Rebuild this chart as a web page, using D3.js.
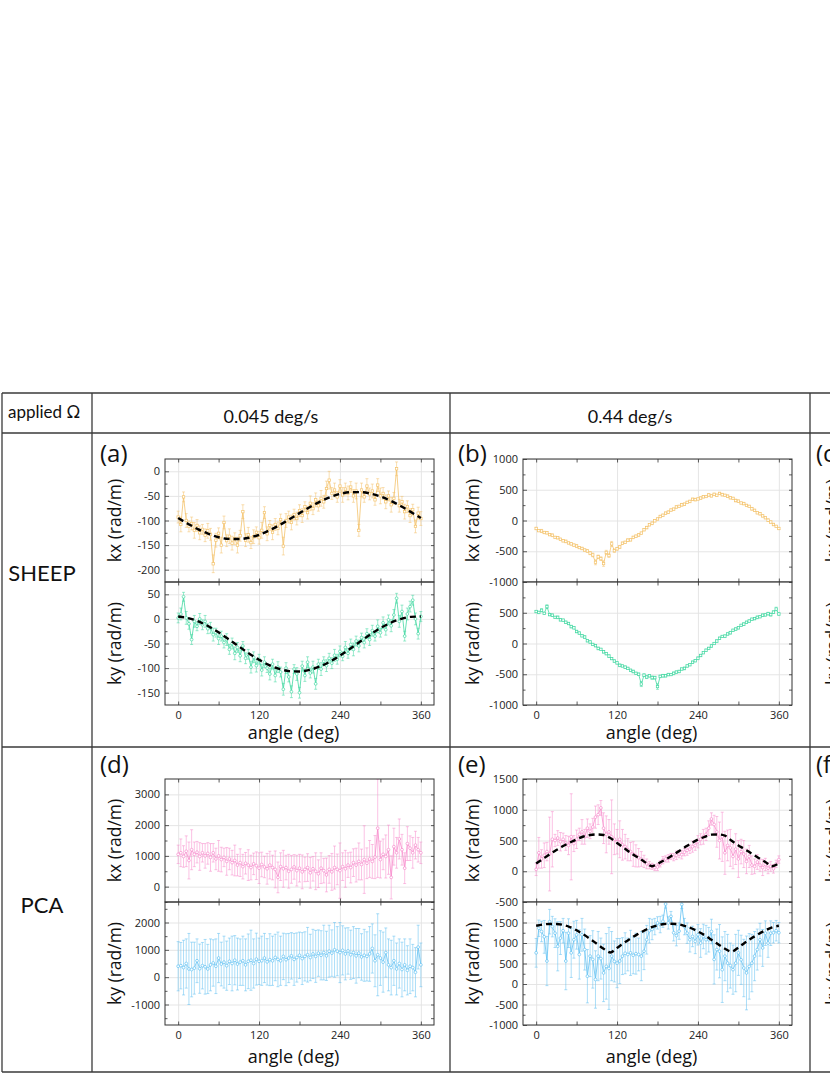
<!DOCTYPE html>
<html>
<head>
<meta charset="utf-8">
<script src="https://cdn.jsdelivr.net/npm/d3@7"></script>
<style>
body{margin:0;background:#fff}
svg{display:block;font-family:"Open Sans",sans-serif}
</style>
</head>
<body>
<div id="chart"></div>
<script>
// sampling angles (deg)
const angles = [0,4,8,12,16,20,24,28,32,36,40,44,48,52,56,60,64,68,72,76,80,84,88,92,96,100,104,108,112,116,
  120,124,128,132,136,140,144,148,152,156,160,164,168,172,176,180,184,188,192,196,200,204,208,212,216,220,224,228,232,236,
  240,244,248,252,256,260,264,268,272,276,280,284,288,292,296,300,304,308,312,316,320,324,328,332,336,340,344,348,352,356,360];

// (a) SHEEP, 0.045 deg/s
const kxA = [-93,-108,-52,-100,-112,-106,-120,-110,-125,-118,
  -130,-121,-128,-188,-140,-126,-150,-104,-141,-132,
  -146,-137,-150,-131,-82,-140,-129,-145,-133,-124,
  -135,-120,-84,-127,-110,-124,-108,-116,-98,-152,
  -100,-93,-104,-88,-96,-80,-90,-72,-84,-65,
  -76,-58,-70,-55,-62,-35,-18,-45,-38,-52,
  -30,-48,-36,-44,-32,-50,-40,-120,-38,-52,
  -30,-46,-40,-58,-28,-50,-45,-62,-50,-68,
  -55,5,-70,-62,-82,-72,-90,-78,-112,-85,
  -96];
const kxAErr = [12,15,10,14,11,13,16,12,14,10,
  13,15,12,18,14,11,16,13,12,15,
  14,12,16,11,14,13,15,12,14,11,
  13,16,12,14,10,15,12,13,11,18,
  14,12,15,11,13,12,14,10,13,15,
  12,14,11,16,13,15,18,12,14,11,
  13,15,12,14,11,13,16,12,14,11,
  15,12,14,11,13,16,12,14,10,15,
  12,14,13,11,15,12,14,11,13,12,
  14];
const kyA = [2,10,45,2,-10,-42,-5,-15,0,-12,
  -5,-20,-18,-32,-28,-40,-35,-48,-42,-62,
  -50,-70,-58,-75,-55,-80,-72,-98,-78,-95,
  -82,-104,-88,-100,-112,-92,-115,-98,-108,-143,
  -100,-118,-148,-102,-112,-150,-96,-115,-88,-110,
  -98,-132,-92,-102,-86,-95,-80,-90,-74,-82,
  -66,-76,-58,-70,-52,-62,-45,-55,-38,-48,
  -30,-42,-24,-35,-15,-28,-8,-22,-2,-14,
  8,42,-5,15,-35,10,25,38,0,-30,
  5];
const kyAErr = [10,12,9,13,11,10,12,9,11,10,
  12,10,11,13,9,12,10,11,12,10,
  11,13,10,12,9,11,10,12,11,13,
  10,12,11,9,12,10,13,11,10,12,
  11,10,12,9,13,11,10,12,11,10,
  12,11,10,13,9,12,10,11,12,10,
  11,9,12,10,11,13,10,12,9,11,
  10,12,11,10,13,9,12,11,10,12,
  11,10,12,13,10,12,11,10,12,11,
  10];
const fitAnglesA = [0,15,30,45,60,75,90,105,120,135,150,165,180,195,210,225,240,255,270,285,300,315,330,345,360];
const kxAFit = [-95,-107,-118,-127,-134,-137.4,-137.7,-135,-129,-120,-109.5,-97.5,-85,-73,-62,-52.7,-46,-42.6,-42.3,-45.2,-51.2,-59.8,-70.5,-82.5,-95];
const kyAFit = [4.8,1.6,-5.1,-15,-27.3,-41.3,-55.9,-70.2,-83.1,-93.9,-101.7,-106.1,-106.8,-103.6,-96.9,-87,-74.7,-60.7,-46.1,-31.8,-18.9,-8.1,-0.3,4.2,4.8];

// (b) SHEEP, 0.44 deg/s
const kxB = [-130,-165,-170,-195,-200,-230,-240,-275,-280,-305,
  -330,-340,-365,-380,-400,-415,-440,-455,-480,-495,
  -530,-560,-680,-590,-620,-700,-520,-570,-380,-490,
  -460,-430,-370,-355,-320,-315,-275,-255,-235,-205,
  -150,-115,-70,-45,-5,25,65,85,120,135,
  170,185,220,230,255,265,295,310,345,340,
  350,365,385,390,415,400,425,410,440,420,
  410,395,370,360,325,315,285,275,245,230,
  190,165,125,110,75,45,5,-25,-65,-95,
  -130];
const kyB = [520,505,540,490,600,470,460,425,425,385,
  380,345,325,275,255,195,170,125,105,45,
  25,-15,-35,-80,-95,-135,-165,-205,-245,-285,
  -315,-355,-365,-385,-405,-435,-455,-485,-500,-660,
  -515,-545,-525,-555,-555,-700,-535,-525,-525,-505,
  -505,-485,-465,-455,-415,-405,-365,-345,-305,-280,
  -240,-195,-150,-110,-80,-40,0,40,85,115,
  120,155,175,215,235,255,295,315,345,365,
  395,405,425,435,460,465,485,470,510,560,
  480];
const kxBErr = [20,15,25,18,20,15,22,18,20,16,
  18,22,15,20,18,25,16,20,18,22,
  25,30,40,28,30,45,35,30,40,28,
  22,25,20,18,22,16,20,18,22,15,
  18,20,16,22,18,15,20,18,16,22,
  18,15,20,16,22,18,15,20,18,22,
  16,20,18,15,22,18,20,16,18,22,
  15,20,18,16,22,18,15,20,18,16,
  22,18,15,20,18,16,22,18,20,15,
  18];
const kyBErr = [18,20,25,16,30,18,20,16,22,18,
  15,20,18,22,16,20,18,15,22,18,
  20,16,18,22,15,20,18,22,16,20,
  18,22,15,20,18,16,22,18,20,40,
  22,25,20,28,22,45,20,22,18,20,
  16,22,18,20,15,22,18,16,20,18,
  22,18,15,20,18,22,16,20,18,15,
  20,18,22,16,20,18,15,22,18,20,
  16,18,22,15,20,18,22,25,20,30,
  20];

// (d) PCA, 0.045 deg/s
const kxD = [1050,1100,980,1150,850,1200,1050,1120,980,1100,
  1000,1080,950,1100,900,1000,880,950,820,900,
  780,850,700,780,650,760,700,620,740,680,
  600,720,640,580,700,620,560,300,650,580,
  620,500,560,640,520,600,480,560,620,450,
  580,500,420,600,520,380,560,480,620,560,
  520,650,580,700,620,780,700,820,720,880,
  760,900,820,960,1900,880,1050,980,1200,300,
  1300,1100,1550,1200,600,1400,1250,1100,1350,1200,
  1100];
const kxDErr = [300,450,350,500,600,650,400,350,450,300,
  400,350,450,300,350,500,400,300,450,350,
  400,500,350,450,400,350,500,400,350,450,
  500,400,350,500,450,400,600,500,450,600,
  400,550,450,400,500,450,550,400,450,500,
  400,600,450,500,400,550,450,600,700,500,
  900,450,600,400,500,450,550,600,500,1100,
  500,600,550,700,1600,600,500,700,800,700,
  600,500,650,500,500,550,400,500,450,400,
  350];
const kyD = [400,420,350,500,300,280,330,600,310,420,
  380,300,450,520,400,700,480,550,420,580,
  500,620,480,550,600,450,580,620,500,660,
  580,600,700,560,640,600,720,650,600,760,
  640,700,780,650,720,800,680,760,820,720,
  850,760,880,800,900,780,950,880,1000,950,
  900,980,850,960,820,900,780,880,740,800,
  760,850,1050,600,820,700,550,900,450,350,
  600,300,500,280,450,250,400,350,180,1100,
  450];
const kyDErr = [900,850,1000,900,1300,1000,950,800,900,850,
  1000,900,950,850,1000,900,800,950,900,850,
  1000,900,950,850,900,950,1000,1100,900,950,
  850,900,900,850,950,900,850,1000,900,850,
  950,900,850,950,900,850,950,900,1000,850,
  900,950,850,900,1000,900,950,850,1000,900,
  1100,900,950,850,900,950,1000,900,850,950,
  900,1000,900,950,1500,1000,1100,900,950,1000,
  900,950,900,1000,950,900,1000,850,900,800,
  800];

// (e) PCA, 0.44 deg/s
const kxE = [30,300,200,260,320,280,520,500,540,480,
  520,460,420,560,450,520,600,640,560,700,
  650,720,880,920,1030,700,600,640,560,520,
  480,520,430,400,350,320,280,250,220,200,
  160,120,100,80,60,70,120,180,200,210,
  240,230,260,280,270,310,340,360,400,420,
  480,520,560,600,700,850,760,640,500,560,
  300,420,380,240,360,200,320,280,160,240,
  100,80,150,100,60,110,50,80,40,120,
  190];
const kxEErr = [100,250,150,200,150,600,450,100,120,150,
  100,120,150,700,130,150,100,200,120,150,
  120,140,180,160,120,250,300,200,600,250,
  200,300,250,200,180,150,200,180,150,120,
  100,80,60,50,50,60,50,60,50,60,
  50,60,70,60,70,60,80,70,90,80,
  100,90,120,100,120,100,150,250,300,400,
  350,250,300,200,250,300,200,220,200,180,
  150,120,120,100,130,100,90,80,70,60,
  60];
const kyE = [760,1360,1280,1150,560,1520,1400,1240,920,1120,
  1300,560,1240,760,1080,1200,720,1200,840,190,
  680,600,110,680,620,270,430,380,680,550,
  510,560,680,750,720,760,700,740,720,680,
  800,1080,1300,1330,1400,1490,1450,1530,1950,1490,
  1650,1250,1180,1290,1940,1400,1240,1080,1160,1040,
  1200,1000,1160,1080,1080,1280,600,840,800,350,
  680,510,450,350,510,760,590,390,270,430,
  510,680,840,1080,880,1240,1000,1240,1250,1300,
  1250];
const kyEErr = [350,200,250,400,600,300,250,350,600,400,
  300,700,350,600,450,350,600,400,500,650,
  500,700,700,600,500,700,800,1000,600,500,
  600,550,450,500,400,550,450,500,400,600,
  450,350,300,250,200,150,200,150,100,150,
  120,200,250,200,100,200,250,300,250,300,
  250,350,300,350,300,300,600,500,650,800,
  600,700,550,600,700,550,600,700,900,800,
  700,600,500,400,450,300,350,300,250,250,
  250];
const fitAnglesEx = [0,10,20,30,40,50,60,70,80,90,100,110,120,130,140,150,160,172,180,190,200,210,220,230,240,250,260,270,280,290,300,310,320,330,340,350,360];
const kxEFit = [125,200,275,345,410,465,520,565,590,598,590,540,460,380,300,230,160,82,120,180,245,315,385,455,515,560,595,598,580,495,420,355,285,217,150,82,130];
const fitAnglesEy = [0,10,20,30,40,50,60,70,80,90,100,110,120,130,140,150,160,170,180,190,200,210,220,230,240,250,260,270,280,290,300,310,320,330,340,350,360];
const kyEFit = [1420,1450,1465,1465,1440,1390,1310,1210,1100,980,860,770,880,1000,1110,1210,1300,1380,1430,1465,1470,1460,1420,1360,1280,1190,1080,970,860,790,890,1010,1120,1220,1310,1380,1420];

// table text
const rowNames = ["SHEEP", "PCA"];
const colNames = ["0.045 deg/s", "0.44 deg/s"];
const xMajor = [0, 120, 240, 360];
const xMinor = [60, 180, 300];

const yellow = "#f4c36c", green = "#42d8a2", pink = "#f78acb", blue = "#62c1f2";

const W = 830, H = 1075;
const svg = d3.select("#chart").append("svg").attr("width", W).attr("height", H);
const defs = svg.append("defs");

const colLeft = [92, 450, 810];
const rows = [
  {top: 459, mid: 582, bot: 705, label: 462, title: 739},
  {top: 779, mid: 902, bot: 1025, label: 773, title: 1063}
];
const plotW = 269;

const panels = [
  {tag: "(a)", col: 0, row: 0,
    upper: {v: kxA, e: kxAErr, c: yellow, dom: [-225, 25], major: [-200,-150,-100,-50,0], minor: [-175,-125,-75,-25], labels: [-200,-150,-100,-50,0], fitX: fitAnglesA, fit: kxAFit, mk: "sq"},
    lower: {v: kyA, e: kyAErr, c: green, dom: [-175, 75], major: [-150,-100,-50,0,50], minor: [-125,-75,-25,25], labels: [-150,-100,-50,0,50], fitX: fitAnglesA, fit: kyAFit, mk: "ci"}},
  {tag: "(b)", col: 1, row: 0,
    upper: {v: kxB, e: kxBErr, c: yellow, dom: [-1000, 1000], major: [-1000,-500,0,500,1000], minor: [-750,-250,250,750], labels: [-1000,-500,0,500,1000], mk: "sq"},
    lower: {v: kyB, e: kyBErr, c: green, dom: [-1000, 1000], major: [-1000,-500,0,500,1000], minor: [-750,-250,250,750], labels: [-1000,-500,0,500], mk: "sq"}},
  {tag: "(d)", col: 0, row: 1,
    upper: {v: kxD, e: kxDErr, c: pink, dom: [-500, 3500], major: [0,1000,2000,3000], minor: [-500,500,1500,2500], labels: [0,1000,2000,3000], mk: "ci"},
    lower: {v: kyD, e: kyDErr, c: blue, dom: [-1750, 2750], major: [-1000,0,1000,2000], minor: [-1500,-500,500,1500,2500], labels: [-1000,0,1000,2000], mk: "ci"}},
  {tag: "(e)", col: 1, row: 1,
    upper: {v: kxE, e: kxEErr, c: pink, dom: [-500, 1500], major: [-500,0,500,1000,1500], minor: [-250,250,750,1250], labels: [-500,0,500,1000,1500], fitX: fitAnglesEx, fit: kxEFit, mk: "ci"},
    lower: {v: kyE, e: kyEErr, c: blue, dom: [-1000, 2000], major: [-1000,-500,0,500,1000,1500,2000], minor: [-750,-250,250,750,1250,1750], labels: [-1000,-500,0,500,1000,1500], fitX: fitAnglesEy, fit: kyEFit, mk: "ci"}}
];

let clipN = 0;
function drawHalf(g, x, s, y0, y1, showX) {
  const fx0 = x(-19.5), fx1 = x(379.5);
  const y = d3.scaleLinear().domain(s.dom).range([y1, y0]);
  const id = "clip" + (clipN++);
  defs.append("clipPath").attr("id", id).append("rect")
    .attr("x", fx0).attr("y", y0).attr("width", fx1 - fx0).attr("height", y1 - y0);

  // grid
  const gy = g.append("g").attr("transform", `translate(${fx0},0)`)
    .call(d3.axisLeft(y).tickValues(s.major).tickSize(-(fx1 - fx0)).tickFormat(""));
  const gx = g.append("g").attr("transform", `translate(0,${y1})`)
    .call(d3.axisBottom(x).tickValues(xMajor).tickSize(-(y1 - y0)).tickFormat(""));
  [gy, gx].forEach(a => { a.select(".domain").remove(); a.selectAll("line").attr("stroke", "#e2e2e2").attr("stroke-width", 0.9); });

  const body = g.append("g").attr("clip-path", `url(#${id})`);
  const pts = angles.map((a, i) => ({a: a, v: s.v[i], e: s.e[i]}));
  const errCol = d3.color(s.c).copy({opacity: 0.7});

  // error bars
  const eb = body.append("g").attr("stroke", errCol).attr("stroke-width", 0.75).attr("fill", "none");
  eb.selectAll("path").data(pts).join("path")
    .attr("d", d => {
      const xx = x(d.a), ya = y(d.v - d.e), yb = y(d.v + d.e);
      return `M${xx},${ya}V${yb}M${xx - 1.5},${ya}H${xx + 1.5}M${xx - 1.5},${yb}H${xx + 1.5}`;
    });
  // connecting line
  body.append("path").datum(pts)
    .attr("fill", "none").attr("stroke", s.c).attr("stroke-width", 0.8)
    .attr("d", d3.line().x(d => x(d.a)).y(d => y(d.v)));
  // markers
  if (s.mk === "sq") {
    body.append("g").selectAll("rect").data(pts).join("rect")
      .attr("x", d => x(d.a) - 1.2).attr("y", d => y(d.v) - 1.2)
      .attr("width", 2.4).attr("height", 2.4)
      .attr("fill", "#fff").attr("stroke", s.c).attr("stroke-width", 0.7);
  } else {
    body.append("g").selectAll("circle").data(pts).join("circle")
      .attr("cx", d => x(d.a)).attr("cy", d => y(d.v)).attr("r", 1.4)
      .attr("fill", "#fff").attr("stroke", s.c).attr("stroke-width", 0.7);
  }
  // fit
  if (s.fit) {
    const fp = s.fitX.map((a, i) => [a, s.fit[i]]);
    body.append("path").datum(fp)
      .attr("fill", "none").attr("stroke", "#000").attr("stroke-width", 2.4)
      .attr("stroke-dasharray", "6,4")
      .attr("d", d3.line().x(d => x(d[0])).y(d => y(d[1])).curve(d3.curveMonotoneX));
  }

  // frame
  g.append("rect").attr("x", fx0).attr("y", y0).attr("width", fx1 - fx0).attr("height", y1 - y0)
    .attr("fill", "none").attr("stroke", "#333").attr("stroke-width", 1);

  // ticks (inward)
  const fmt = d => s.labels.includes(d) ? String(d) : "";
  const axes = [
    g.append("g").attr("transform", `translate(${fx0},0)`).call(d3.axisLeft(y).tickValues(s.major).tickSizeInner(-4).tickSizeOuter(0).tickPadding(5).tickFormat(fmt)),
    g.append("g").attr("transform", `translate(${fx0},0)`).call(d3.axisLeft(y).tickValues(s.minor).tickSizeInner(-2.5).tickSizeOuter(0).tickFormat("")),
    g.append("g").attr("transform", `translate(${fx1},0)`).call(d3.axisRight(y).tickValues(s.major.concat(s.minor)).tickSizeInner(-3).tickSizeOuter(0).tickFormat("")),
    g.append("g").attr("transform", `translate(0,${y0})`).call(d3.axisTop(x).tickValues(xMajor.concat(xMinor)).tickSizeInner(-3.5).tickSizeOuter(0).tickFormat("")),
    g.append("g").attr("transform", `translate(0,${y1})`).call(d3.axisBottom(x).tickValues(xMajor.concat(xMinor)).tickSizeInner(-3.5).tickSizeOuter(0).tickPadding(6).tickFormat(d => showX && xMajor.includes(d) ? String(d) : ""))
  ];
  axes.forEach(a => {
    a.select(".domain").remove();
    a.selectAll("line").attr("stroke", "#333").attr("stroke-width", 0.8);
    a.selectAll("text").attr("font-size", 11).attr("fill", "#222").attr("font-family", "Open Sans");
  });
  return y;
}

function yTitle(g, xx, yy, txt) {
  g.append("text").attr("transform", `translate(${xx},${yy}) rotate(-90)`)
    .attr("text-anchor", "middle").attr("font-size", 17.5).attr("fill", "#111").text(txt);
}

const gPlots = svg.append("g");
panels.forEach(p => {
  const r = rows[p.row];
  const fx0 = colLeft[p.col] + 73;
  const x = d3.scaleLinear().domain([-19.5, 379.5]).range([fx0, fx0 + plotW]);
  const g = gPlots.append("g");
  drawHalf(g, x, p.upper, r.top, r.mid, false);
  drawHalf(g, x, p.lower, r.mid, r.bot, true);
  g.append("text").attr("x", colLeft[p.col] + 8).attr("y", r.label)
    .attr("font-size", 24).attr("fill", "#111").text(p.tag);
  yTitle(g, fx0 - 44, (r.top + r.mid) / 2, "kx (rad/m)");
  yTitle(g, fx0 - 44, (r.mid + r.bot) / 2, "ky (rad/m)");
  g.append("text").attr("x", fx0 + plotW / 2 - 6).attr("y", r.title)
    .attr("text-anchor", "middle").attr("font-size", 18).attr("fill", "#111").text("angle (deg)");
});

// third column: only its left edge falls inside the picture
["(c)", "(f)"].forEach((t, i) => {
  const r = rows[i];
  const fx0 = colLeft[2] + 73;
  svg.append("text").attr("x", colLeft[2] + 6).attr("y", r.label).attr("font-size", 24).attr("fill", "#111").text(t);
  yTitle(svg, fx0 - 44, (r.top + r.mid) / 2, "kx (rad/m)");
  yTitle(svg, fx0 - 44, (r.mid + r.bot) / 2, "ky (rad/m)");
});

// table
const tb = svg.append("g").attr("stroke", "#3a3a3a").attr("stroke-width", 1.3);
[393, 433, 747, 1072].forEach(yy => tb.append("line").attr("x1", 2).attr("x2", W).attr("y1", yy).attr("y2", yy));
[2, 92, 450, 810].forEach(xx => tb.append("line").attr("x1", xx).attr("x2", xx).attr("y1", 393).attr("y2", 1072));

const tf = svg.append("g").attr("font-family", "Lato, 'Open Sans', sans-serif").attr("fill", "#111");
tf.append("text").attr("x", 8).attr("y", 418).attr("font-size", 17).text("applied \u03a9");
colNames.forEach((t, i) => tf.append("text").attr("x", (colLeft[i] + colLeft[i + 1]) / 2).attr("y", 423)
  .attr("text-anchor", "middle").attr("font-size", 18).text(t));
tf.append("text").attr("x", 42).attr("y", 581).attr("text-anchor", "middle").attr("font-size", 22).text(rowNames[0]);
tf.append("text").attr("x", 42).attr("y", 913).attr("text-anchor", "middle").attr("font-size", 22).text(rowNames[1]);
</script>
</body>
</html>
